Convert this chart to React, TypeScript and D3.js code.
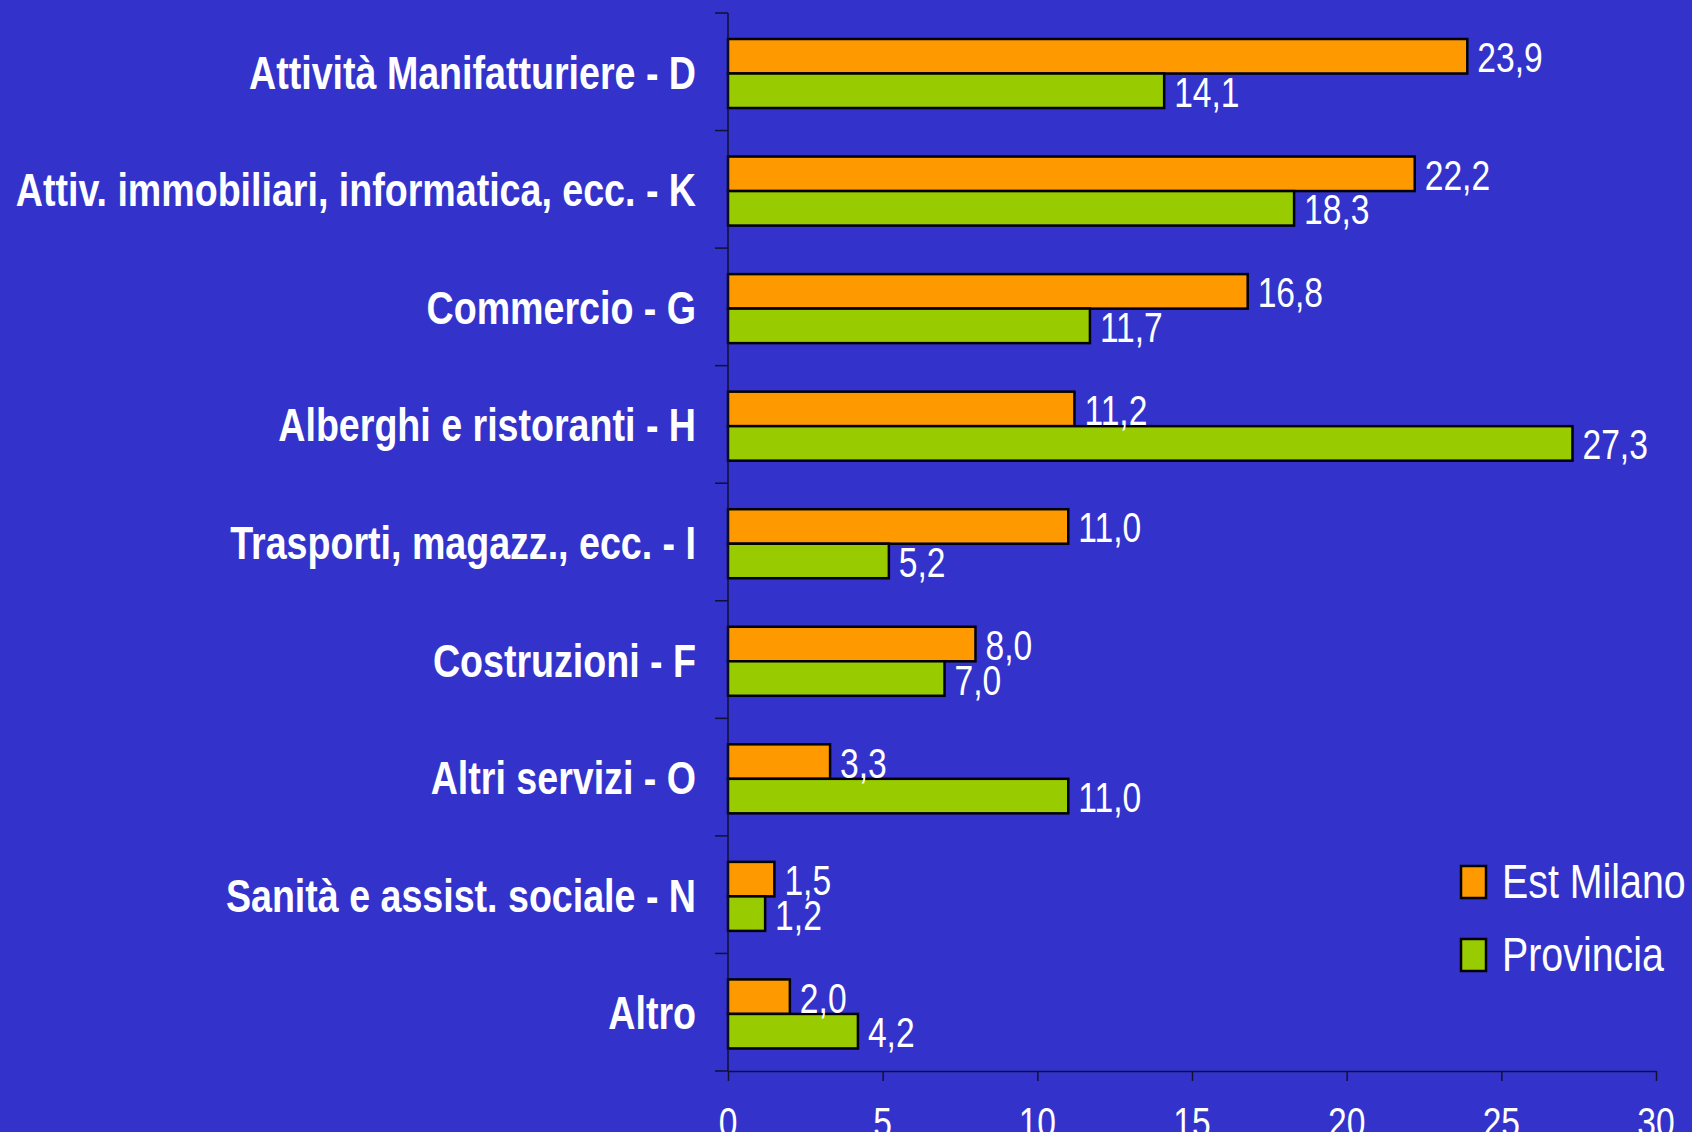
import React from "react";
import { useEffect, useRef } from "react";
import * as d3 from "d3";

const categories = [
  "Attività Manifatturiere - D",
  "Attiv. immobiliari, informatica, ecc. - K",
  "Commercio - G",
  "Alberghi e ristoranti - H",
  "Trasporti, magazz., ecc. - I",
  "Costruzioni - F",
  "Altri servizi - O",
  "Sanità e assist. sociale - N",
  "Altro",
];
const seriesNames = ["Est Milano", "Provincia"];
const estMilano = [23.9, 22.2, 16.8, 11.2, 11.0, 8.0, 3.3, 1.5, 2.0];
const provincia = [14.1, 18.3, 11.7, 27.3, 5.2, 7.0, 11.0, 1.2, 4.2];
const xTicks = [0, 5, 10, 15, 20, 25, 30];

const colors = ["#ff9900", "#99cc00"];
const FONT = "'Liberation Sans', Arial, sans-serif";
// no narrow font installed, so squeeze text horizontally
const NARROW = 0.8;

const App = () => {
  const ref = useRef<SVGSVGElement>(null);

  useEffect(() => {
    drawChart();
  }, []);

  function drawChart() {
    const width = 1692;
    const height = 1132;
    const margin = { top: 13, right: 36, bottom: 61, left: 728 };

    const svg = d3.select(ref.current);
    svg.selectAll("*").remove();

    svg.append("rect").attr("width", width).attr("height", height).attr("fill", "#3333cc");

    const g = svg.append("g").attr("transform", `translate(${margin.left},${margin.top})`);
    const w = width - margin.left - margin.right;
    const h = height - margin.top - margin.bottom;

    const xScale = d3.scaleLinear().domain([0, 30]).range([0, w]);
    const y0 = d3.scaleBand().domain(categories).range([0, h]).padding(0);
    const y1 = d3.scaleBand().domain(seriesNames).range([26, 95]);

    const rows = categories.map((c, i) => ({
      cat: c,
      values: [
        { key: seriesNames[0], value: estMilano[i] },
        { key: seriesNames[1], value: provincia[i] },
      ],
    }));

    const fmt = (v: number) => d3.format(".1f")(v).replace(".", ",");
    const at = (x: number, y: number) => `translate(${x},${y}) scale(${NARROW},1)`;

    const groups = g
      .selectAll(".row")
      .data(rows)
      .enter()
      .append("g")
      .attr("class", "row")
      .attr("transform", (d: any) => `translate(0,${y0(d.cat)})`);

    groups
      .selectAll("rect")
      .data((d: any) => d.values)
      .enter()
      .append("rect")
      .attr("x", 0)
      .attr("y", (d: any) => y1(d.key))
      .attr("width", (d: any) => xScale(d.value))
      .attr("height", y1.bandwidth())
      .attr("fill", (d: any, i: number) => colors[i])
      .attr("stroke", "#000")
      .attr("stroke-width", 2.5);

    groups
      .selectAll("text.val")
      .data((d: any) => d.values)
      .enter()
      .append("text")
      .attr("class", "val")
      .attr("transform", (d: any) =>
        at(xScale(d.value) + 10, (y1(d.key) as number) + y1.bandwidth() / 2 + 16)
      )
      .attr("fill", "#fff")
      .attr("font-family", FONT)
      .attr("font-size", 42)
      .text((d: any) => fmt(d.value));

    // category labels
    g.selectAll(".cat")
      .data(categories)
      .enter()
      .append("text")
      .attr("class", "cat")
      .attr("transform", (d: any) => at(-32, (y0(d) as number) + y0.bandwidth() / 2 + 17))
      .attr("text-anchor", "end")
      .attr("fill", "#fff")
      .attr("font-family", FONT)
      .attr("font-weight", "bold")
      .attr("font-size", 47)
      .text((d: any) => d);

    // y axis with boundary ticks
    const boundaries = categories.map((c) => y0(c) as number).concat([h]);
    g.append("line")
      .attr("x1", 0)
      .attr("x2", 0)
      .attr("y1", 0)
      .attr("y2", h)
      .attr("stroke", "#111133")
      .attr("stroke-width", 1.5);
    g.selectAll(".ytick")
      .data(boundaries)
      .enter()
      .append("line")
      .attr("x1", -13)
      .attr("x2", 0)
      .attr("y1", (d: any) => d)
      .attr("y2", (d: any) => d)
      .attr("stroke", "#111133")
      .attr("stroke-width", 1.5);

    // x axis
    const xAxis = g
      .append("g")
      .attr("transform", `translate(0,${h})`)
      .call(d3.axisBottom(xScale).tickValues(xTicks).tickSize(10).tickSizeOuter(0).tickFormat(() => ""));
    xAxis.select(".domain").attr("stroke", "#111133").attr("stroke-width", 1.5);
    xAxis.selectAll(".tick line").attr("stroke", "#111133").attr("stroke-width", 1.5);

    g.selectAll(".xlab")
      .data(xTicks)
      .enter()
      .append("text")
      .attr("class", "xlab")
      .attr("transform", (d: any) => at(xScale(d), h + 66))
      .attr("text-anchor", "middle")
      .attr("fill", "#fff")
      .attr("font-family", FONT)
      .attr("font-size", 42)
      .text((d: any) => d);

    // legend
    const legend = svg.append("g").attr("transform", "translate(1461,866)");
    seriesNames.forEach((s, i) => {
      const lg = legend.append("g").attr("transform", `translate(0,${i * 73})`);
      lg.append("rect")
        .attr("width", 25)
        .attr("height", 32)
        .attr("fill", colors[i])
        .attr("stroke", "#000")
        .attr("stroke-width", 2.5);
      lg.append("text")
        .attr("transform", `translate(41,32) scale(0.82,1)`)
        .attr("fill", "#fff")
        .attr("font-family", FONT)
        .attr("font-size", 48)
        .text(s);
    });
  }

  return (
    <svg
      ref={ref}
      width={1692}
      height={1132}
      style={{ position: "absolute", left: 0, top: 0, display: "block" }}
    />
  );
};

export default App;
